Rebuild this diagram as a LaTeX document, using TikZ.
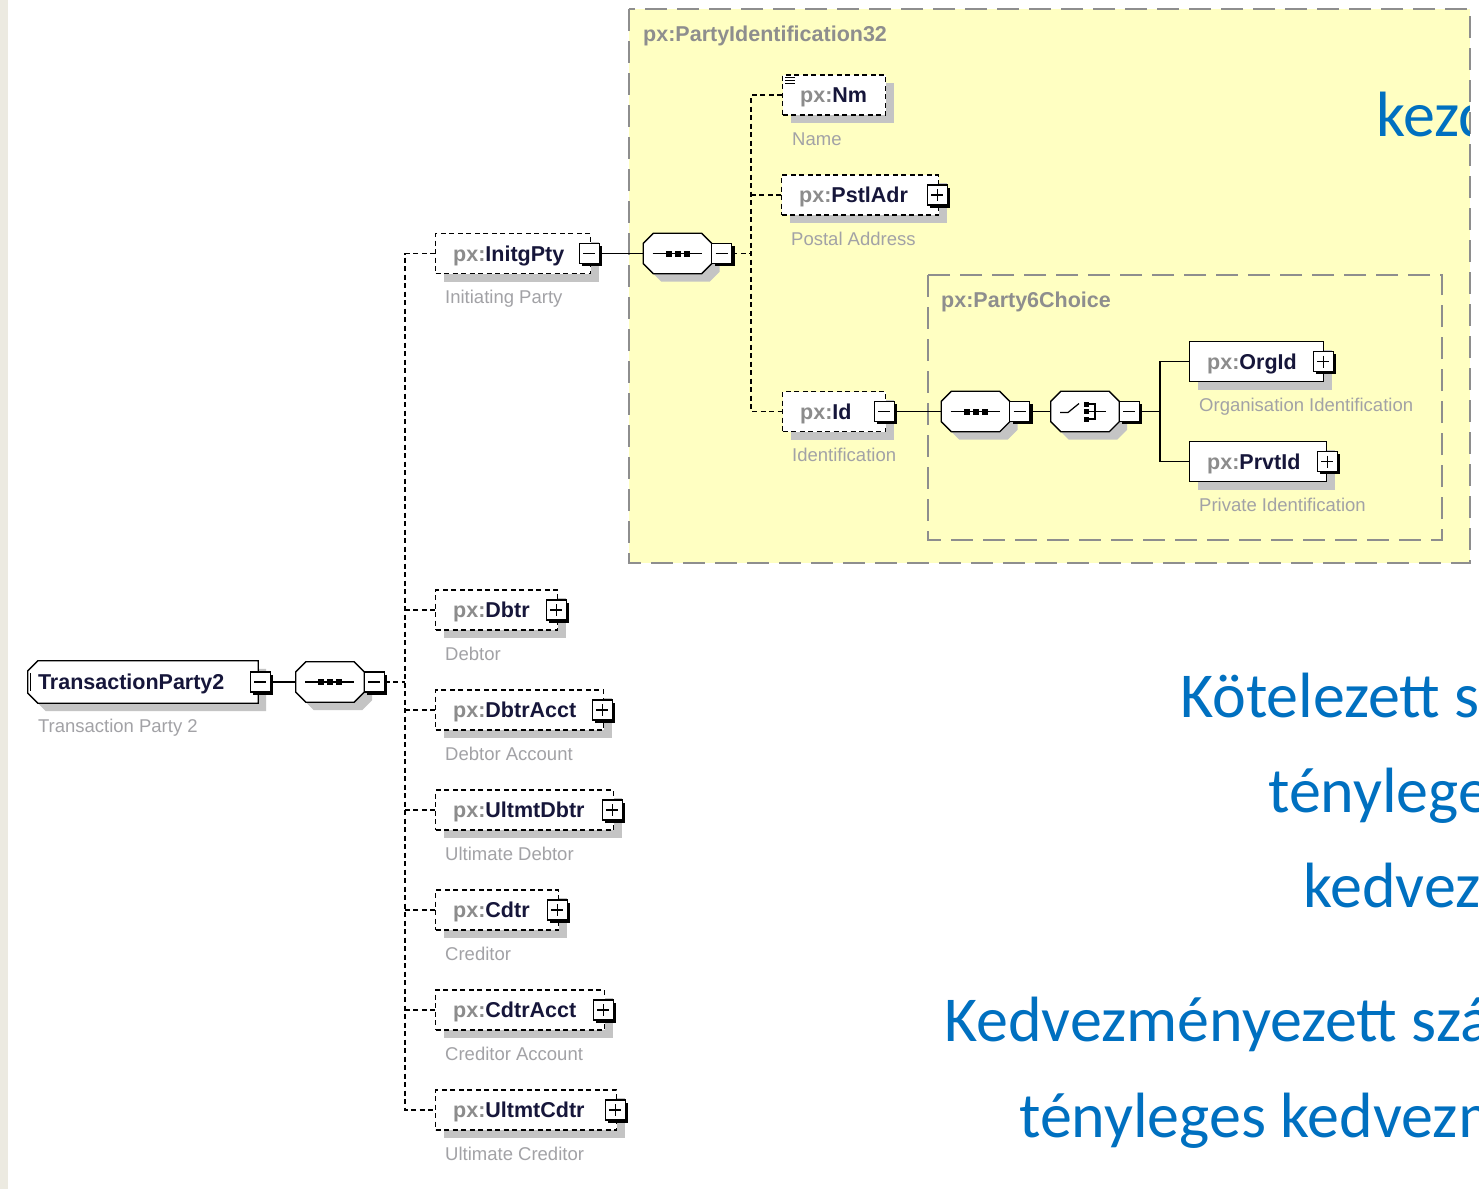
\documentclass[tikz,border=0pt]{standalone}
\usepackage{fontspec}
\setmainfont{Liberation Sans}
\newfontfamily\slidefont{Carlito}
\usetikzlibrary{calc,shadows}

\definecolor{yellowbg}{HTML}{FFFFC2}
\definecolor{grpline}{HTML}{8E8E8E}
\definecolor{pxgray}{HTML}{8C8C8C}
\definecolor{namecol}{HTML}{16163A}
\definecolor{desccol}{HTML}{A2A2A6}
\definecolor{shadowcol}{HTML}{C4C4C4}
\definecolor{stripcol}{HTML}{ECEAE1}
\definecolor{slideblue}{HTML}{0070C0}

\tikzset{
  elembox/.style={draw=black, line width=1.3pt, fill=white, minimum height=40pt,
    inner sep=0pt, anchor=west,
    general shadow={fill=shadowcol, shadow xshift=8pt, shadow yshift=-8pt}},
  optbox/.style={elembox, dash pattern=on 5pt off 3.5pt},
  reqbox/.style={elembox},
  elemtext/.style={anchor=base west, inner sep=0pt, font=\fontsize{21.5}{24}\selectfont\bfseries},
  desctext/.style={anchor=base west, inner sep=0pt, text=desccol, font=\fontsize{18.5}{22}\selectfont},
  pmbox/.style={draw=black, line width=1.2pt, fill=white, minimum size=20pt, inner sep=0pt,
    general shadow={fill=black, shadow xshift=2.8pt, shadow yshift=-2.8pt}},
  compobox/.style={draw=none, minimum width=68pt, minimum height=40pt, inner sep=0pt},
  grpborder/.style={draw=grpline, line width=1.8pt, dash pattern=on 22pt off 10pt},
  grplabel/.style={anchor=west, inner sep=0pt, text=grpline, font=\fontsize{21.5}{24}\selectfont\bfseries},
  solidconn/.style={draw=black, line width=1.3pt},
  dashconn/.style={draw=black, line width=1.3pt, dash pattern=on 5pt off 3.5pt},
  slidetext/.style={anchor=base west, inner sep=0pt, text=slideblue, font=\slidefont\fontsize{64}{70}\selectfont},
}

% element: name, left x, center y, width, element name, description, box style
\newcommand\xelem[7]{%
  \node[#7, minimum width=#4pt] (#1) at (#2,#3) {};
  \node[elemtext] (#1-t) at ($(#1.west)+(18,7.8)$) {\textcolor{pxgray}{px:}\textcolor{namecol}{#5}};
  \node[desctext] (#1-d) at ($(#1.west)+(10,50)$) {#6};
}
\newcommand\xplus[2]{%
  \node[pmbox] (#1) at #2 {};
  \draw[line width=1.4pt] ($(#1.center)+(-6,0)$) -- ($(#1.center)+(6,0)$);
  \draw[line width=1.4pt] ($(#1.center)+(0,-6)$) -- ($(#1.center)+(0,6)$);
}
\newcommand\xminus[2]{%
  \node[pmbox] (#1) at #2 {};
  \draw[line width=1.4pt] ($(#1.center)+(-6,0)$) -- ($(#1.center)+(6,0)$);
}
\newcommand\octpath[3]{%
  ($(#1.north west)+(10+#2,#3)$) -- ($(#1.north east)+(-10+#2,#3)$) --
  ($(#1.north east)+(#2,10+#3)$) -- ($(#1.south east)+(#2,-10+#3)$) --
  ($(#1.south east)+(-10+#2,#3)$) -- ($(#1.south west)+(10+#2,#3)$) --
  ($(#1.south west)+(#2,-10+#3)$) -- ($(#1.north west)+(#2,10+#3)$) -- cycle}
\newcommand\xcompo[3]{%
  \node[compobox] (#1) at (#2,#3) {};
  \fill[shadowcol] \octpath{#1}{8}{8};
  \draw[line width=1.3pt, fill=white] \octpath{#1}{0}{0};
  \xminus{#1m}{($(#1.east)+(10,0)$)}
}
\newcommand\seqicon[1]{%
  \draw[line width=1.2pt] ($(#1.center)+(-25,0)$) -- ($(#1.center)+(24,0)$);
  \foreach \dx in {-9,0,9} {\fill ($(#1.center)+(\dx-3,-3)$) rectangle ($(#1.center)+(\dx+3,3)$);}
}

\begin{document}
\begin{tikzpicture}[x=1pt,y=-1pt]
\useasboundingbox (0,0) rectangle (1479,1189);
\fill[white] (0,0) rectangle (1479,1189);
\fill[stripcol] (0,0) rectangle (8,1189);

% group boxes
\fill[yellowbg] (629,9) rectangle (1470,563);
\draw[grpborder] (629,9) rectangle (1470,563);
\draw[grpborder] (928,275) rectangle (1442,540);
\node[grplabel] (grpA) at (643,36) {px:PartyIdentification32};
\node[grplabel] (grpB) at (941,302) {px:Party6Choice};

% slide text
\begin{scope}
  \clip (629,9) rectangle (1469,563);
  \node[slidetext] (s0) at (1376,136) {kezd};
\end{scope}
\begin{scope}
  \clip (0,0) rectangle (1479,1189);
  \node[slidetext] (s1) at (1180,717) {Kötelezett sz};
  \node[slidetext] (s2) at (1268,812) {tényleges};
  \node[slidetext] (s3) at (1303,907) {kedvezm};
  \node[slidetext] (s4) at (944,1041) {Kedvezményezett szá};
  \node[slidetext] (s5) at (1019,1137) {tényleges kedvezm};
\end{scope}

% root
\node[draw=none, minimum width=230pt, minimum height=42pt, inner sep=0pt] (tp2) at (143,682) {};
\fill[shadowcol] ($(tp2.north west)+(18,8)$) -- ($(tp2.north east)+(8,8)$) -- ($(tp2.south east)+(8,8)$) --
  ($(tp2.south west)+(18,8)$) -- ($(tp2.south west)+(8,-2)$) -- ($(tp2.north west)+(8,18)$) -- cycle;
\draw[line width=1.3pt, fill=white] ($(tp2.north west)+(10,0)$) -- (tp2.north east) -- (tp2.south east) --
  ($(tp2.south west)+(10,0)$) -- ($(tp2.south west)+(0,-10)$) -- ($(tp2.north west)+(0,10)$) -- cycle;
\draw[line width=1.3pt] ($(tp2.north west)+(3,12)$) -- ($(tp2.south west)+(3,-12)$);
\node[elemtext] (tp2-t) at ($(tp2.west)+(10,7.8)$) {\textcolor{namecol}{TransactionParty2}};
\node[desctext] (tp2-d) at ($(tp2.west)+(10,50)$) {Transaction Party 2};
\xminus{tp2m}{($(tp2.east)+(2,0)$)}

% compositors
\xcompo{seq1}{330}{682}
\seqicon{seq1}
\xcompo{seq2}{677.5}{253.5}
\seqicon{seq2}
\xcompo{seq3}{975.5}{411.5}
\seqicon{seq3}
\xcompo{choice}{1085}{411.5}
% choice icon
\draw[line width=1.2pt] ($(choice.center)+(-25,1)$) -- ($(choice.center)+(-17,1)$) -- ($(choice.center)+(-6,-8)$);
\fill ($(choice.center)+(-1,-10)$) rectangle ($(choice.center)+(4,-5)$);
\fill ($(choice.center)+(-1,-2.5)$) rectangle ($(choice.center)+(4,2.5)$);
\fill ($(choice.center)+(-1,5)$) rectangle ($(choice.center)+(4,10)$);
\draw[line width=1.2pt] ($(choice.center)+(4,-7.5)$) -- ($(choice.center)+(10,-7.5)$) -- ($(choice.center)+(10,7.5)$) -- ($(choice.center)+(4,7.5)$);
\draw[line width=1.2pt] ($(choice.center)+(4,0)$) -- ($(choice.center)+(21,0)$);

% elements
\xelem{initg}{435}{253.5}{155}{InitgPty}{Initiating Party}{optbox}
\xminus{initgm}{($(initg.east)+(-2,0)$)}
\xelem{dbtr}{435}{610}{122}{Dbtr}{Debtor}{optbox}
\xplus{dbtrm}{($(dbtr.east)+(-2,0)$)}
\xelem{dbtracct}{435}{710}{168}{DbtrAcct}{Debtor Account}{optbox}
\xplus{dbtracctm}{($(dbtracct.east)+(-2,0)$)}
\xelem{ultdbtr}{435}{810}{178}{UltmtDbtr}{Ultimate Debtor}{optbox}
\xplus{ultdbtrm}{($(ultdbtr.east)+(-2,0)$)}
\xelem{cdtr}{435}{910}{123}{Cdtr}{Creditor}{optbox}
\xplus{cdtrm}{($(cdtr.east)+(-2,0)$)}
\xelem{cdtracct}{435}{1010}{169}{CdtrAcct}{Creditor Account}{optbox}
\xplus{cdtracctm}{($(cdtracct.east)+(-2,0)$)}
\xelem{ultcdtr}{435}{1110}{181}{UltmtCdtr}{Ultimate Creditor}{optbox}
\xplus{ultcdtrm}{($(ultcdtr.east)+(-2,0)$)}

\xelem{nm}{782}{95}{103}{Nm}{Name}{optbox}
\draw[line width=1pt] ($(nm.north west)+(3,3)$) -- ++(10,0);
\draw[line width=1pt] ($(nm.north west)+(3,6)$) -- ++(10,0);
\draw[line width=1pt] ($(nm.north west)+(3,9)$) -- ++(10,0);
\xelem{pstl}{781}{195}{157}{PstlAdr}{Postal Address}{optbox}
\xplus{pstlm}{($(pstl.east)+(-2,0)$)}
\xelem{id}{782}{411.5}{103}{Id}{Identification}{optbox}
\xminus{idm}{($(id.east)+(-2,0)$)}
\xelem{orgid}{1189}{361.5}{134}{OrgId}{Organisation Identification}{reqbox}
\xplus{orgidm}{($(orgid.east)+(-1,0)$)}
\xelem{prvtid}{1189}{461.5}{137}{PrvtId}{Private Identification}{reqbox}
\xplus{prvtidm}{($(prvtid.east)+(0,0)$)}

% bus coordinates
\coordinate (bus1) at (405,0);
\coordinate (bus2) at (751,0);
\coordinate (bus3) at (1160,0);

% connectors
\draw[solidconn] (tp2m.east) -- (seq1.west);
\draw[dashconn] (seq1m.east) -- (seq1m.east -| bus1);
\draw[dashconn] (initg.west) -- (initg.west -| bus1) -- (ultcdtr.west -| bus1) -- (ultcdtr.west);
\foreach \n in {dbtr,dbtracct,ultdbtr,cdtr,cdtracct} {\draw[dashconn] (\n.west) -- (\n.west -| bus1);}
\draw[solidconn] (initgm.east) -- (seq2.west);
\draw[dashconn] (seq2m.east) -- (seq2m.east -| bus2);
\draw[dashconn] (nm.west) -- (nm.west -| bus2) -- (id.west -| bus2) -- (id.west);
\draw[dashconn] (pstl.west) -- (pstl.west -| bus2);
\draw[solidconn] (idm.east) -- (seq3.west);
\draw[solidconn] (seq3m.east) -- (choice.west);
\draw[solidconn] (choicem.east) -- (choicem.east -| bus3);
\draw[solidconn] (orgid.west) -- (orgid.west -| bus3) -- (prvtid.west -| bus3) -- (prvtid.west);
\end{tikzpicture}
\end{document}
